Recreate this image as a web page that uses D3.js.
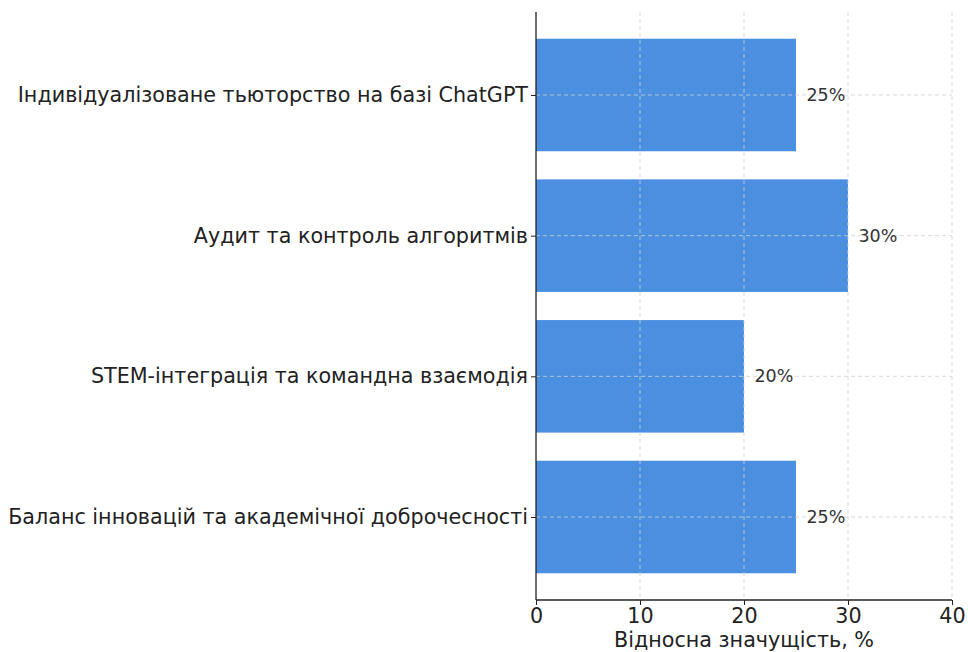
<!DOCTYPE html>
<html><head><meta charset="utf-8">
<script src="https://cdn.jsdelivr.net/npm/d3@7"></script>
<style>body{margin:0;background:#fff}svg{display:block}</style>
</head><body>
<script>
const categories = [
  "Індивідуалізоване тьюторство на базі ChatGPT",
  "Аудит та контроль алгоритмів",
  "STEM-інтеграція та командна взаємодія",
  "Баланс інновацій та академічної доброчесності"
];
const values = [25, 30, 20, 25];
const xTicks = [0, 10, 20, 30, 40];
const xLabel = "Відносна значущість, %";

(function () {
const W = 968, H = 652;
const mLeft = 536, mRight = 952, mTop = 12, mBottom = 600;
const font = "DejaVu Sans, sans-serif";
const fs = 20.7;

const svg = d3.select("body").append("svg").attr("width", W).attr("height", H);

const x = d3.scaleLinear().domain([0, 40]).range([mLeft, mRight]);
const y = d3.scaleLinear().domain([-0.59, 3.59]).range([mTop, mBottom]);
const bh = y(0.4) - y(-0.4);

svg.selectAll("rect.bar").data(values).enter().append("rect")
  .attr("x", x(0))
  .attr("y", (d, i) => y(i) - bh / 2)
  .attr("width", d => x(d) - x(0))
  .attr("height", bh)
  .attr("fill", "#4a8fe0");

const g = svg.append("g");
xTicks.filter(t => t > 0).forEach(t => {
  g.append("line").attr("x1", x(t)).attr("x2", x(t)).attr("y1", mTop).attr("y2", mBottom)
    .attr("stroke", "#d0d0d0").attr("stroke-opacity", 0.8).attr("stroke-width", 1).attr("stroke-dasharray", "4,3");
});
categories.forEach((c, i) => {
  g.append("line").attr("x1", mLeft).attr("x2", mRight).attr("y1", y(i)).attr("y2", y(i))
    .attr("stroke", "#d0d0d0").attr("stroke-opacity", 0.8).attr("stroke-width", 1).attr("stroke-dasharray", "4,3");
});

svg.selectAll("text.val").data(values).enter().append("text")
  .attr("x", d => x(d + 1))
  .attr("y", (d, i) => y(i))
  .attr("dy", "0.35em")
  .attr("font-family", font).attr("font-size", 17.5).attr("fill", "#333")
  .text(d => d + "%");

const xAxis = d3.axisBottom(x).tickValues(xTicks).tickSize(5).tickPadding(3);
const ax = svg.append("g").attr("transform", `translate(0,${mBottom})`).call(xAxis);
ax.select(".domain").attr("stroke", "#222").attr("stroke-width", 1.3).attr("d", `M${mLeft},0H${mRight}`);
ax.selectAll(".tick line").attr("stroke", "#222");
ax.selectAll(".tick text").attr("font-family", font).attr("font-size", fs).attr("fill", "#222");

const yAxis = d3.axisLeft(y).tickValues(categories.map((c, i) => i)).tickFormat(i => categories[i]).tickSize(5).tickPadding(3);
const ay = svg.append("g").attr("transform", `translate(${mLeft},0)`).call(yAxis);
ay.select(".domain").attr("stroke", "#222").attr("stroke-width", 1.3).attr("d", `M0,${mTop}V${mBottom}`);
ay.selectAll(".tick line").attr("stroke", "#222");
ay.selectAll(".tick text").attr("font-family", font).attr("font-size", fs).attr("fill", "#222");

svg.append("text").attr("x", (mLeft + mRight) / 2).attr("y", 647)
  .attr("text-anchor", "middle").attr("font-family", font).attr("font-size", fs).attr("fill", "#222")
  .text(xLabel);
})();
</script>
</body></html>
